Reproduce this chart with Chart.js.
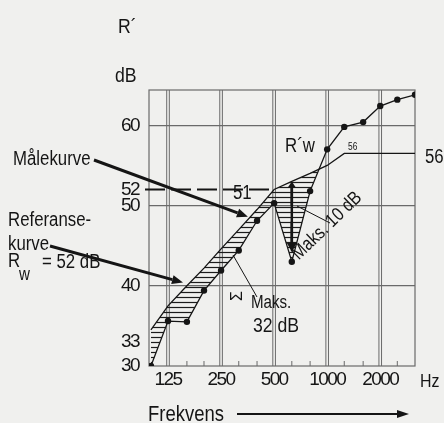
<!DOCTYPE html>
<html>
<head>
<meta charset="utf-8">
<script src="https://cdn.jsdelivr.net/npm/chart.js@4.4.0/dist/chart.umd.min.js"></script>
<style>
html,body{margin:0;padding:0;background:#f0f0ee;}
#wrap{width:444px;height:423px;position:relative;}
</style>
</head>
<body>
<div id="wrap"><canvas id="c" width="444" height="423"></canvas></div>
<script>
// ---- data ----
const freqs     = [100, 125, 160, 200, 250, 315, 400, 500, 630, 800, 1000, 1250, 1600, 2000, 2500, 3150];
const measured  = [30, 35.6, 35.5, 39.4, 41.9, 44.4, 48.1, 50.3, 43, 51.8, 57, 59.8, 60.4, 62.4, 63.2, 63.8];
const reference = [34.5, 37.5, 40, 42.2, 44.6, 47, 49.5, 52, 53, 54, 55, 56.5, 56.5, 56.5, 56.5, 56.5];
const xTickValues = [125, 250, 500, 1000, 2000];
const minorFreqs  = [160, 200, 315, 400, 630, 800, 1250, 1600, 2500];
const yTickValues = [30, 33, 40, 50, 52, 60];
const yGridValues = [40, 50, 60];
const rwValue = 52;          // dashed level line
const rwFreq = 500;
const maxDevFreq = 630;      // 10 dB max deviation

const FONT = "'Liberation Sans Narrow','Arial Narrow','Liberation Sans',Arial,sans-serif";
const INK = '#151515';
const GRID = '#6a6a6a';
const NARROW = 0.84;

// hatch pattern (horizontal lines)
const pc = document.createElement('canvas');
pc.width = 8; pc.height = 5;
const pctx = pc.getContext('2d');
pctx.strokeStyle = '#1c1c1c';
pctx.lineWidth = 1.2;
pctx.beginPath(); pctx.moveTo(0, 2.5); pctx.lineTo(8, 2.5); pctx.stroke();
const hatch = document.getElementById('c').getContext('2d').createPattern(pc, 'repeat');

function arrow(ctx, x1, y1, x2, y2, lw, hl, hw) {
  const a = Math.atan2(y2 - y1, x2 - x1);
  const bx = x2 - hl * Math.cos(a), by = y2 - hl * Math.sin(a);
  ctx.lineWidth = lw;
  ctx.beginPath(); ctx.moveTo(x1, y1); ctx.lineTo(bx, by); ctx.stroke();
  ctx.beginPath();
  ctx.moveTo(x2, y2);
  ctx.lineTo(bx + hw / 2 * Math.sin(a), by - hw / 2 * Math.cos(a));
  ctx.lineTo(bx - hw / 2 * Math.sin(a), by + hw / 2 * Math.cos(a));
  ctx.closePath(); ctx.fill();
}

// narrow text: horizontally condensed
function ntext(ctx, s, px, py, size, opts) {
  opts = opts || {};
  ctx.save();
  ctx.translate(px, py);
  if (opts.rot) ctx.rotate(opts.rot);
  ctx.scale(opts.sx || NARROW, 1);
  ctx.font = size + 'px ' + FONT;
  ctx.textAlign = opts.align || 'left';
  ctx.textBaseline = opts.base || 'alphabetic';
  ctx.fillText(s, 0, 0);
  ctx.restore();
}

const gridPlugin = {
  id: 'gridPlugin',
  beforeDraw(chart) { chart.ctx.letterSpacing = '-1.6px'; },
  afterDraw(chart) { chart.ctx.letterSpacing = '0px'; },
  beforeDatasetsDraw(chart) {
    const {ctx, chartArea: ca, scales: {x, y}} = chart;
    ctx.save();
    ctx.strokeStyle = GRID;
    ctx.lineWidth = 1;
    xTickValues.forEach(v => {
      const px = x.getPixelForValue(v);
      [-1.3, 1.3].forEach(o => {
        ctx.beginPath(); ctx.moveTo(px + o, ca.top); ctx.lineTo(px + o, ca.bottom); ctx.stroke();
      });
    });
    minorFreqs.forEach(v => {
      const px = x.getPixelForValue(v);
      ctx.beginPath(); ctx.moveTo(px, ca.bottom); ctx.lineTo(px, ca.bottom - 5); ctx.stroke();
    });
    ctx.lineWidth = 1.2;
    ctx.strokeRect(ca.left, ca.top, ca.right - ca.left, ca.bottom - ca.top);
    ctx.strokeStyle = INK;
    ctx.lineWidth = 2;
    ctx.setLineDash([20, 6]);
    const yr = y.getPixelForValue(rwValue);
    ctx.beginPath(); ctx.moveTo(ca.left - 4, yr); ctx.lineTo(x.getPixelForValue(rwFreq), yr); ctx.stroke();
    ctx.setLineDash([]);
    ctx.restore();
  },
  afterDatasetsDraw(chart) {
    const {ctx, scales: {x, y}} = chart;
    ctx.save();
    ctx.letterSpacing = '0px';
    ctx.fillStyle = INK; ctx.strokeStyle = INK;
    // axis titles
    ntext(ctx, 'R\u00B4', 118, 33, 21);
    ntext(ctx, 'dB', 115, 82, 21);
    ntext(ctx, 'Hz', 420, 387, 19);
    ntext(ctx, 'Frekvens', 148, 421, 22);
    arrow(ctx, 237, 414, 409, 414, 2, 12, 8);
    // left annotations
    ntext(ctx, 'Målekurve', 13, 165, 20);
    ntext(ctx, 'Referanse-', 8, 226, 20);
    ntext(ctx, 'kurve', 8, 250, 20);
    ntext(ctx, 'R', 8, 267, 20);
    ntext(ctx, 'w', 19, 280, 18);
    ntext(ctx, '= 52 dB', 42, 268, 20);
    arrow(ctx, 94, 160, x.getPixelForValue(355), y.getPixelForValue(48.6), 3, 11, 9);
    arrow(ctx, 50, 246, x.getPixelForValue(152), y.getPixelForValue(40.4), 3, 11, 9);
    // curve labels
    ntext(ctx, 'R\u00B4w', 285, 152, 20);
    ntext(ctx, '56', 348, 150, 10);
    ntext(ctx, '56', 425, 163, 20);
    ntext(ctx, '51', 233, 199, 20);
    // max 10 dB arrow at 630 Hz
    const xm = x.getPixelForValue(maxDevFreq);
    ctx.lineWidth = 2.5;
    ctx.beginPath(); ctx.moveTo(xm, y.getPixelForValue(52.6)); ctx.lineTo(xm, y.getPixelForValue(45)); ctx.stroke();
    arrow(ctx, xm, y.getPixelForValue(48), xm, y.getPixelForValue(44.2), 2.5, 9, 10);
    arrow(ctx, xm, y.getPixelForValue(50), xm, y.getPixelForValue(53), 2.5, 6, 8);
    ctx.lineWidth = 1;
    ctx.beginPath(); ctx.moveTo(297, 206); ctx.lineTo(330, 223); ctx.stroke();
    ntext(ctx, 'Maks. 10 dB', 327, 226, 19, {rot: -44 * Math.PI / 180, align: 'center', base: 'middle'});
    // max 32 dB sum
    ctx.lineWidth = 1;
    ctx.beginPath(); ctx.moveTo(233, 255); ctx.lineTo(257, 297); ctx.stroke();
    ntext(ctx, '\u03A3', 238, 296, 16, {rot: -Math.PI / 2, align: 'center', base: 'middle', sx: 1});
    ntext(ctx, 'Maks.', 251, 308, 18);
    ntext(ctx, '32 dB', 253, 332, 21);
    ctx.restore();
  }
};

new Chart(document.getElementById('c'), {
  type: 'line',
  data: {
    datasets: [
      {
        label: 'Referansekurve',
        data: freqs.map((f, i) => ({x: f, y: reference[i]})),
        borderColor: INK, borderWidth: 1.3, pointRadius: 0, fill: false, tension: 0
      },
      {
        label: 'Målekurve',
        data: freqs.map((f, i) => ({x: f, y: measured[i]})),
        borderColor: INK, borderWidth: 1.3, tension: 0,
        pointRadius: 3.2, pointBackgroundColor: INK, pointBorderWidth: 0,
        fill: {target: 0, above: 'rgba(0,0,0,0)', below: hatch}
      }
    ]
  },
  options: {
    responsive: false,
    devicePixelRatio: 1,
    animation: false,
    layout: {padding: {left: 0, top: 90, right: 29, bottom: 0}},
    plugins: {legend: {display: false}, tooltip: {enabled: false}},
    scales: {
      x: {
        type: 'logarithmic', min: 97.5, max: 3150,
        afterBuildTicks: s => { s.ticks = xTickValues.map(v => ({value: v})); },
        afterFit: s => { s.height = 57; },
        ticks: {callback: v => String(v), autoSkip: false, maxRotation: 0, padding: 2,
                color: INK, font: {family: FONT, size: 19}},
        grid: {display: false, drawTicks: false},
        border: {display: false}
      },
      y: {
        min: 30, max: 64.4,
        afterBuildTicks: s => { s.ticks = yTickValues.map(v => ({value: v})); },
        afterFit: s => { s.width = 149; },
        ticks: {autoSkip: false, padding: 10, color: INK, font: {family: FONT, size: 19}},
        grid: {color: c => yGridValues.includes(c.tick.value) ? GRID : 'rgba(0,0,0,0)', lineWidth: 1.2, drawTicks: false},
        border: {display: false}
      }
    }
  },
  plugins: [gridPlugin]
});
</script>
</body>
</html>
